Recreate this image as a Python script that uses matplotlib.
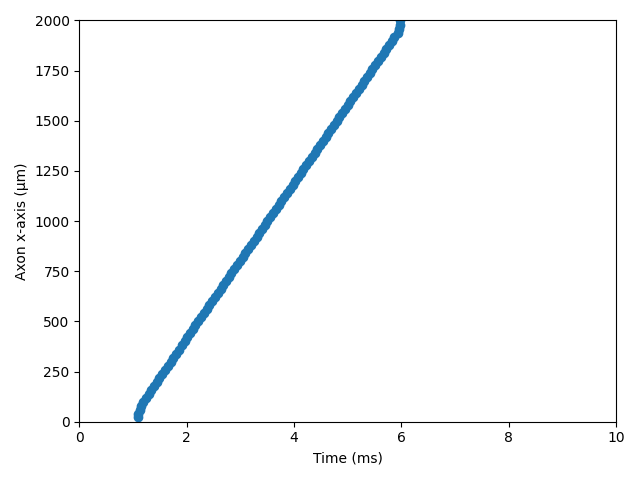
import matplotlib
matplotlib.use("Agg")
import matplotlib.pyplot as plt

# spike arrival position along the axon (um) and time (ms)
position_um = [26, 40, 60, 80, 100, 120, 140, 160, 180, 200,
               220, 240, 260, 280, 300, 320, 340, 360, 380, 400,
               420, 440, 460, 480, 500, 520, 540, 560, 580, 600,
               620, 640, 660, 680, 700, 720, 740, 760, 780, 800,
               820, 840, 860, 880, 900, 920, 940, 960, 980, 1000,
               1020, 1040, 1060, 1080, 1100, 1120, 1140, 1160, 1180, 1200,
               1220, 1240, 1260, 1280, 1300, 1320, 1340, 1360, 1380, 1400,
               1420, 1440, 1460, 1480, 1500, 1520, 1540, 1560, 1580, 1600,
               1620, 1640, 1660, 1680, 1700, 1720, 1740, 1760, 1780, 1800,
               1820, 1840, 1860, 1880, 1900, 1920, 1940, 1960, 1980, 2000]
time_ms = [1.09, 1.10, 1.12, 1.14, 1.18, 1.24, 1.29, 1.34, 1.39, 1.44,
           1.49, 1.54, 1.60, 1.65, 1.70, 1.75, 1.80, 1.85, 1.91, 1.96,
           2.01, 2.06, 2.11, 2.16, 2.21, 2.27, 2.32, 2.37, 2.42, 2.47,
           2.52, 2.58, 2.63, 2.68, 2.73, 2.78, 2.83, 2.88, 2.94, 2.99,
           3.04, 3.09, 3.14, 3.19, 3.25, 3.30, 3.35, 3.40, 3.45, 3.50,
           3.56, 3.61, 3.66, 3.71, 3.76, 3.81, 3.86, 3.92, 3.97, 4.02,
           4.07, 4.12, 4.17, 4.23, 4.28, 4.33, 4.38, 4.43, 4.48, 4.53,
           4.59, 4.64, 4.69, 4.74, 4.79, 4.84, 4.90, 4.95, 5.00, 5.05,
           5.10, 5.15, 5.20, 5.26, 5.31, 5.36, 5.41, 5.46, 5.51, 5.57,
           5.62, 5.67, 5.72, 5.77, 5.82, 5.87, 5.93, 5.96, 5.965, 5.97]

fig, ax = plt.subplots(figsize=(6.4, 4.8), dpi=100)
ax.scatter(time_ms, position_um)
ax.set_xlim(0, 10)
ax.set_ylim(0, 2000)
ax.set_xlabel("Time (ms)")
ax.set_ylabel("Axon x-axis (μm)")
fig.tight_layout()
fig.savefig("out.png")
